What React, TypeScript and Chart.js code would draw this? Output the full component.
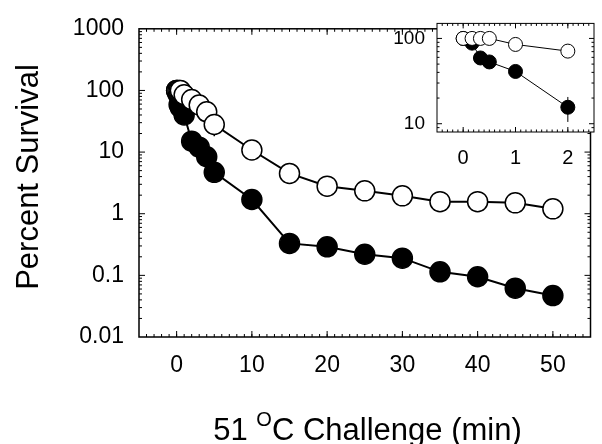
import React, { useEffect, useRef } from "react";
import { Chart, registerables } from "chart.js";

Chart.register(...registerables);

// ---------- data ----------
const mainTimes = [0, 0.17, 0.33, 0.5, 1, 2, 3, 4, 5, 10, 15, 20, 25, 30, 35, 40, 45, 50];
const mainOpen = [100, 100, 100, 100, 85, 71, 58, 45, 28, 10.8, 4.5, 2.8, 2.35, 1.95, 1.57, 1.57, 1.5, 1.2];
const mainFilled = [100, 88, 59, 53, 40, 15, 12, 8.4, 4.7, 1.7, 0.33, 0.29, 0.22, 0.19, 0.114, 0.095, 0.062, 0.047];

const insetTimes = [0, 0.17, 0.33, 0.5, 1, 2];
const insetOpen = [100, 100, 100, 100, 85, 71];
const insetFilled = [100, 88, 59, 53, 41, 15.6];

// error bars: [x, low, high]
const mainErrors = [[5, 18, 40]];
const insetErrors = [[2, 10.5, 20.6]];

const mainXTicks = [0, 10, 20, 30, 40, 50];
const mainYTicks = [0.01, 0.1, 1, 10, 100, 1000];
const mainYLabels = ["0.01", "0.1", "1", "10", "100", "1000"];
const insetXTicks = [0, 1, 2];
const insetYTicks = [10, 100];
const insetYLabels = ["10", "100"];

const xTitleParts = ["51 ", "O", "C Challenge (min)"];
const yTitle = "Percent Survival";

const FONT = "'Liberation Sans', Arial, Helvetica, sans-serif";

// ---------- helpers ----------
function range(a: number, b: number, step: number) {
  const out: number[] = [];
  for (let v = a; v <= b + 1e-9; v += step) out.push(Math.round(v * 1000) / 1000);
  return out;
}
function logMinors(min: number, max: number) {
  const out: number[] = [];
  let d = Math.pow(10, Math.floor(Math.log10(min)));
  while (d <= max) {
    for (let k = 2; k <= 9; k++) {
      const v = k * d;
      if (v >= min && v <= max) out.push(v);
    }
    d *= 10;
  }
  return out;
}

const framePlugin = {
  id: "frame",
  beforeDatasetsDraw(chart: any, _args: any, opts: any) {
    const { ctx, chartArea: a, scales } = chart;
    const xs = scales.x, ys = scales.y;
    ctx.save();
    if (opts.fill) {
      ctx.fillStyle = "#fff";
      ctx.fillRect(a.left, a.top, a.right - a.left, a.bottom - a.top);
    }
    ctx.strokeStyle = "#000";
    ctx.lineWidth = opts.tickWidth;
    const drawX = (vals: number[], len: number) => {
      for (const v of vals) {
        const p = xs.getPixelForValue(v);
        if (p < a.left + 1 || p > a.right - 1) continue;
        ctx.beginPath();
        ctx.moveTo(p, a.bottom);
        ctx.lineTo(p, a.bottom - len);
        ctx.moveTo(p, a.top);
        ctx.lineTo(p, a.top + len);
        ctx.stroke();
      }
    };
    const drawY = (vals: number[], len: number) => {
      for (const v of vals) {
        const p = ys.getPixelForValue(v);
        if (p < a.top + 1 || p > a.bottom - 1) continue;
        ctx.beginPath();
        ctx.moveTo(a.left, p);
        ctx.lineTo(a.left + len, p);
        ctx.moveTo(a.right, p);
        ctx.lineTo(a.right - len, p);
        ctx.stroke();
      }
    };
    drawX(opts.xMinor, opts.minorLen);
    drawX(opts.xMajor, opts.majorLen);
    drawY(opts.yMinor, opts.minorLen);
    drawY(opts.yMajor, opts.majorLen);
    ctx.lineWidth = opts.lineWidth;
    ctx.strokeRect(a.left, a.top, a.right - a.left, a.bottom - a.top);
    ctx.restore();
  },
};

const errorPlugin = {
  id: "errbars",
  beforeDatasetsDraw(chart: any, _args: any, opts: any) {
    const { ctx, scales } = chart;
    ctx.save();
    ctx.strokeStyle = "#000";
    ctx.lineWidth = opts.lineWidth;
    for (const [x, lo, hi] of opts.bars) {
      const px = scales.x.getPixelForValue(x);
      ctx.beginPath();
      ctx.moveTo(px, scales.y.getPixelForValue(lo));
      ctx.lineTo(px, scales.y.getPixelForValue(hi));
      ctx.stroke();
    }
    ctx.restore();
  },
};

const titlePlugin = {
  id: "titles",
  afterDraw(chart: any) {
    const { ctx } = chart;
    ctx.save();
    ctx.fillStyle = "#000";
    // y title
    ctx.font = `31px ${FONT}`;
    ctx.textAlign = "center";
    ctx.textBaseline = "alphabetic";
    ctx.translate(38, 177);
    ctx.rotate(-Math.PI / 2);
    ctx.fillText(yTitle, 0, 0);
    ctx.restore();

    ctx.save();
    ctx.fillStyle = "#000";
    ctx.textAlign = "left";
    ctx.textBaseline = "alphabetic";
    const big = `31px ${FONT}`;
    const small = `20px ${FONT}`;
    ctx.font = big;
    const w0 = ctx.measureText(xTitleParts[0]).width;
    const w2 = ctx.measureText(xTitleParts[2]).width;
    ctx.font = small;
    const w1 = ctx.measureText(xTitleParts[1]).width;
    const total = w0 + w1 + w2;
    let x = 367.5 - total / 2;
    const base = 440;
    ctx.font = big;
    ctx.fillText(xTitleParts[0], x, base);
    x += w0;
    ctx.font = small;
    ctx.fillText(xTitleParts[1], x, base - 14);
    x += w1;
    ctx.font = big;
    ctx.fillText(xTitleParts[2], x, base);
    ctx.restore();
  },
};

function makeDatasets(times: number[], open: number[], filled: number[], r: number, lw: number, blw: number) {
  return [
    {
      data: times.map((t, i) => ({ x: t, y: open[i] })),
      borderColor: "#000",
      borderWidth: lw,
      pointRadius: r,
      pointBackgroundColor: "#fff",
      pointBorderColor: "#000",
      pointBorderWidth: blw,
      tension: 0,
      fill: false,
    },
    {
      data: times.map((t, i) => ({ x: t, y: filled[i] })),
      borderColor: "#000",
      borderWidth: lw,
      pointRadius: r,
      pointBackgroundColor: "#000",
      pointBorderColor: "#000",
      pointBorderWidth: blw,
      tension: 0,
      fill: false,
    },
  ];
}

export default function App() {
  const mainRef = useRef<HTMLCanvasElement>(null);
  const insetRef = useRef<HTMLCanvasElement>(null);

  useEffect(() => {
    const main = new Chart(mainRef.current as HTMLCanvasElement, {
      type: "line",
      data: { datasets: makeDatasets(mainTimes, mainOpen, mainFilled, 10, 2, 1.5) as any },
      options: {
        animation: false,
        responsive: false,
        devicePixelRatio: 1,
        events: [],
        layout: { padding: { top: 21, right: 1, left: 0, bottom: 0 } },
        plugins: {
          legend: { display: false },
          tooltip: { enabled: false },
          frame: {
            lineWidth: 1.5,
            tickWidth: 1,
            majorLen: 6,
            minorLen: 3,
            fill: false,
            xMajor: mainXTicks,
            xMinor: range(-5, 55, 1),
            yMajor: mainYTicks,
            yMinor: logMinors(0.01, 1000),
          },
          errbars: { lineWidth: 1.5, bars: mainErrors },
        } as any,
        scales: {
          x: {
            type: "linear",
            min: -5,
            max: 55,
            afterBuildTicks: (s: any) => {
              s.ticks = mainXTicks.map((v) => ({ value: v }));
            },
            afterFit: (s: any) => {
              s.height = 107;
            },
            grid: { display: false, drawTicks: false },
            border: { display: false },
            ticks: {
              autoSkip: false,
              maxRotation: 0,
              padding: 15,
              color: "#000",
              font: { family: FONT, size: 23 },
              callback: (v: any) => String(v),
            },
          },
          y: {
            type: "logarithmic",
            min: 0.01,
            max: 1000,
            afterBuildTicks: (s: any) => {
              s.ticks = mainYTicks.map((v) => ({ value: v }));
            },
            afterFit: (s: any) => {
              s.width = 139;
            },
            grid: { display: false, drawTicks: false },
            border: { display: false },
            ticks: {
              autoSkip: false,
              padding: 15,
              color: "#000",
              font: { family: FONT, size: 23 },
              callback: (v: any) => {
                const i = mainYTicks.findIndex((t) => Math.abs(t - v) / t < 1e-6);
                return i >= 0 ? mainYLabels[i] : "";
              },
            },
          },
        },
      },
      plugins: [framePlugin, errorPlugin, titlePlugin],
    });

    const inset = new Chart(insetRef.current as HTMLCanvasElement, {
      type: "line",
      data: { datasets: makeDatasets(insetTimes, insetOpen, insetFilled, 7, 1, 1) as any },
      options: {
        animation: false,
        responsive: false,
        devicePixelRatio: 1,
        events: [],
        layout: { padding: { top: 22, right: 8, left: 0, bottom: 0 } },
        plugins: {
          legend: { display: false },
          tooltip: { enabled: false },
          frame: {
            lineWidth: 1,
            tickWidth: 1,
            majorLen: 5,
            minorLen: 2.5,
            fill: true,
            xMajor: insetXTicks,
            xMinor: range(-0.5, 2.5, 0.1),
            yMajor: insetYTicks,
            yMinor: logMinors(8, 150),
          },
          errbars: { lineWidth: 1, bars: insetErrors },
        } as any,
        scales: {
          x: {
            type: "linear",
            min: -0.5,
            max: 2.5,
            afterBuildTicks: (s: any) => {
              s.ticks = insetXTicks.map((v) => ({ value: v }));
            },
            afterFit: (s: any) => {
              s.height = 43;
            },
            grid: { display: false, drawTicks: false },
            border: { display: false },
            ticks: {
              autoSkip: false,
              maxRotation: 0,
              padding: 14,
              color: "#000",
              font: { family: FONT, size: 20 },
              callback: (v: any) => String(v),
            },
          },
          y: {
            type: "logarithmic",
            min: 8,
            max: 150,
            afterBuildTicks: (s: any) => {
              s.ticks = insetYTicks.map((v) => ({ value: v }));
            },
            afterFit: (s: any) => {
              s.width = 57;
            },
            grid: { display: false, drawTicks: false },
            border: { display: false },
            ticks: {
              autoSkip: false,
              padding: 12,
              color: "#000",
              font: { family: FONT, size: 19 },
              callback: (v: any) => {
                const i = insetYTicks.findIndex((t) => Math.abs(t - v) / t < 1e-6);
                return i >= 0 ? insetYLabels[i] : "";
              },
            },
          },
        },
      },
      plugins: [framePlugin, errorPlugin],
    });

    return () => {
      main.destroy();
      inset.destroy();
    };
  }, []);

  return (
    <div style={{ position: "fixed", left: 0, top: 0, width: 602, height: 444, background: "#fff" }}>
      <canvas
        ref={mainRef}
        width={602}
        height={444}
        style={{ position: "absolute", left: 0, top: 0, width: 602, height: 444 }}
      />
      <canvas
        ref={insetRef}
        width={222}
        height={175}
        style={{ position: "absolute", left: 380, top: 0, width: 222, height: 175 }}
      />
    </div>
  );
}
